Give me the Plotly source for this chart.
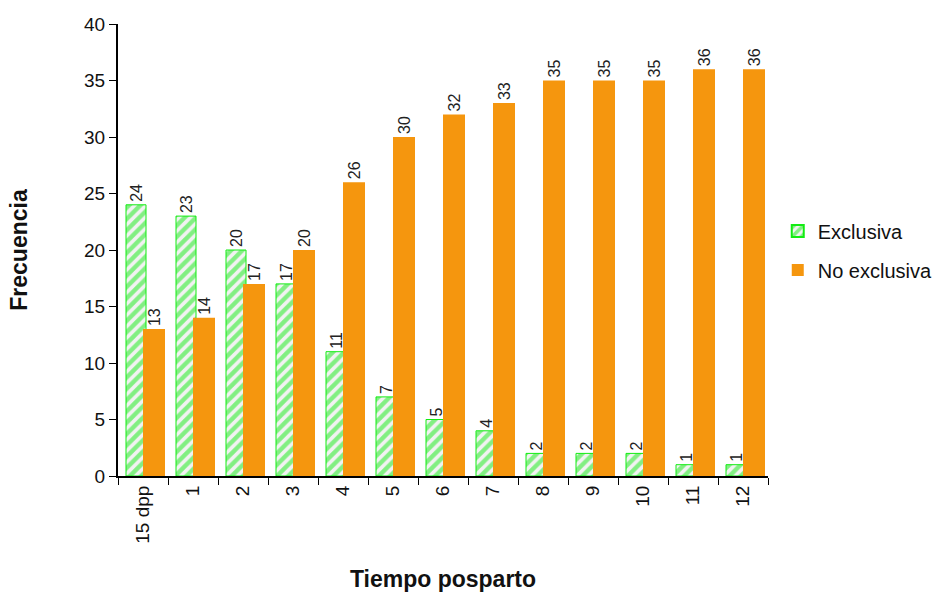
import plotly.graph_objects as go

categories = ["15 dpp", "1", "2", "3", "4", "5", "6", "7", "8", "9", "10", "11", "12"]
exclusiva = [24, 23, 20, 17, 11, 7, 5, 4, 2, 2, 2, 1, 1]
no_exclusiva = [13, 14, 17, 20, 26, 30, 32, 33, 35, 35, 35, 36, 36]

FONT = "Liberation Sans, Arial, sans-serif"
GREEN = "#12ec12"
ORANGE = "#F5960E"

fig = go.Figure()
fig.add_trace(go.Bar(
    x=categories, y=exclusiva, name="Exclusiva", legendgroup="a",
    offset=-0.34, width=0.40,
    marker=dict(color="#f2f2f2", line=dict(color=GREEN, width=1),
                pattern=dict(shape="/", fgcolor=GREEN, bgcolor="#f2f2f2", size=8, solidity=0.55)),
    text=[str(v) for v in exclusiva], textposition="outside", textangle=-90,
    textfont=dict(family=FONT, size=16, color="#222"), cliponaxis=False,
))
fig.add_trace(go.Bar(
    x=categories, y=no_exclusiva, name="No exclusiva", legendgroup="b",
    offset=0.0, width=0.44,
    marker=dict(color=ORANGE, line=dict(color=ORANGE, width=0)),
    text=[str(v) for v in no_exclusiva], textposition="outside", textangle=-90,
    textfont=dict(family=FONT, size=16, color="#222"), cliponaxis=False,
))

fig.update_layout(
    width=934, height=592,
    margin=dict(l=118, r=166, t=24, b=116, autoexpand=False),
    barmode="overlay",
    plot_bgcolor="white", paper_bgcolor="white",
    font=dict(family=FONT, size=19, color="#111"),
    showlegend=True,
    legend=dict(x=1.015, y=0.585, xanchor="left", yanchor="top",
                font=dict(family=FONT, size=20, color="#111"),
                itemsizing="constant", tracegroupgap=10, bgcolor="rgba(0,0,0,0)"),
    xaxis=dict(type="category", tickson="boundaries", ticks="outside", ticklen=7,
               tickcolor="black", showline=True, linecolor="black", linewidth=2,
               tickangle=-90, tickfont=dict(size=19), showgrid=False, automargin=False,
               range=[-0.5, 12.5],
               title=dict(text="<b>Tiempo posparto</b>", font=dict(size=23), standoff=30)),
    yaxis=dict(range=[0, 40], dtick=5, ticks="outside", ticklen=7, tickcolor="black",
               showline=True, linecolor="black", linewidth=2, showgrid=False,
               zeroline=False, tickfont=dict(size=19), automargin=False,
               title=dict(text="<b>Frecuencia</b>", font=dict(size=23), standoff=50)),
)

fig.write_html("out.html")
